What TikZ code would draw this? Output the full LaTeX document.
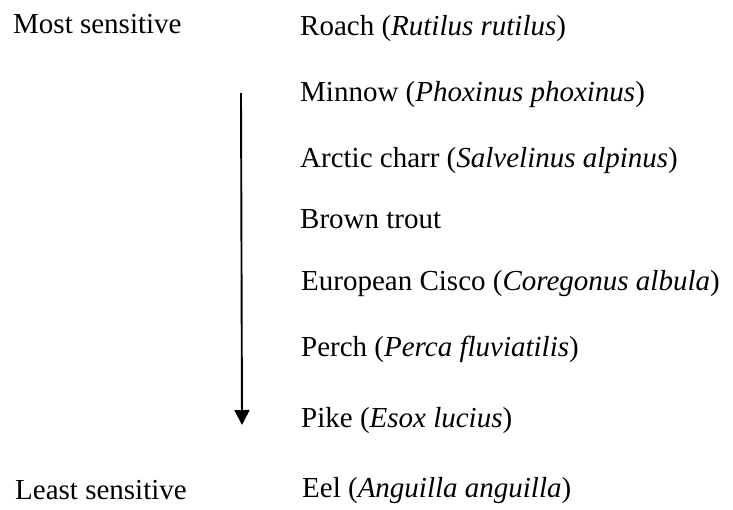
\documentclass[tikz,border=0pt]{standalone}
\usepackage{fontspec}
\setmainfont{Liberation Serif}
\usetikzlibrary{arrows.meta}
\begin{document}
\begin{tikzpicture}[x=1pt,y=-1pt,
  lbl/.style={anchor=base west,inner sep=0pt,font=\fontsize{29}{33}\selectfont},
  arr/.style={line width=1.9pt,-{Triangle[width=15pt,length=15pt]}}]
\useasboundingbox (0,0) rectangle (733,509);
\node[lbl] (most) at (13,33) {Most sensitive};
\node[lbl] (least) at (15,499) {Least sensitive};
\node[lbl] (roach) at (300,35) {Roach (\textit{Rutilus rutilus})};
\node[lbl] (minnow) at (300,101) {Minnow (\textit{Phoxinus phoxinus})};
\node[lbl] (charr) at (300,167) {Arctic charr (\textit{Salvelinus alpinus})};
\node[lbl] (trout) at (300,228) {Brown trout};
\node[lbl] (cisco) at (301,290) {European Cisco (\textit{Coregonus albula})};
\node[lbl] (perch) at (301,356) {Perch (\textit{Perca fluviatilis})};
\node[lbl] (pike) at (301,427) {Pike (\textit{Esox lucius})};
\node[lbl] (eel) at (302,497) {Eel (\textit{Anguilla anguilla})};
\coordinate (atop) at (241,93);
\coordinate (atip) at (242,425);
\draw[arr] (atop) -- (atip);
\end{tikzpicture}
\end{document}
